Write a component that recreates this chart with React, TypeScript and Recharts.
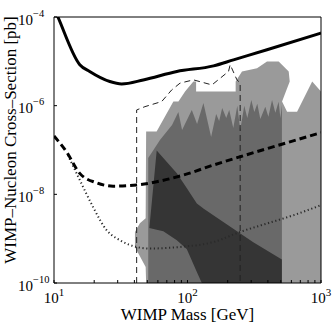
import React from 'react';
import { ComposedChart, Area, Line, XAxis, YAxis, Label } from 'recharts';

const FONT = '"Liberation Serif", "Times New Roman", serif';

// axes
const massTicks = [10, 20, 30, 40, 50, 60, 70, 80, 90, 100, 200, 300, 400, 500, 600, 700, 800, 900, 1000];
const majorMass = [10, 100, 1000];
const sigmaTicks = [1e-10, 1e-8, 1e-6, 1e-4];

// solid limit curve
const solidMass = [10, 10.7, 15.6, 18.5, 26.2, 32.1, 46.6, 83.2, 156.7, 221, 394, 1000];
const solidSigma = [1.6e-4, 1e-4, 8.4e-6, 5.9e-6, 3.5e-6, 3.1e-6, 3.8e-6, 5.9e-6, 7.9e-6, 1.08e-5, 1.82e-5, 4.35e-5];

// thick dashed curve
const thickDashMass = [10, 12.4, 15.6, 20.8, 27.7, 41.6, 58.7, 93.1, 156.6, 248, 442, 1000];
const thickDashSigma = [2.07e-7, 9.1e-8, 2.97e-8, 1.82e-8, 1.53e-8, 1.62e-8, 1.92e-8, 2.72e-8, 4.58e-8, 7.05e-8, 1.19e-7, 2.46e-7];

// dotted curve
const dottedMass = [12.7, 15.6, 19.6, 24.8, 31.2, 41.6, 52.4, 87.9, 156.6, 248, 394, 625, 1000];
const dottedSigma = [7.7e-8, 2.1e-8, 5.2e-9, 1.55e-9, 9.2e-10, 6.5e-10, 6.0e-10, 6.5e-10, 8.4e-10, 1.42e-9, 2.2e-9, 3.4e-9, 5.7e-9];

// thin dashed contour
const thinDashMass = [41.6, 41.6, 48.0, 64.1, 76.2, 87.9, 110.7, 152.4, 202.8, 208.8, 234.6, 248, 248];
const thinDashSigma = [1e-10, 8.0e-7, 9.5e-7, 1.24e-6, 2.27e-6, 3.22e-6, 3.82e-6, 2.94e-6, 5.9e-6, 8.4e-6, 3.82e-6, 3.27e-6, 1e-10];

// light region
const lightMass = [40.4, 44.0, 48.6, 49.0, 58.7, 78.4, 85.5, 95.9, 110.7, 116.0, 116.0, 229.5, 229.5, 255.9, 331.8, 394, 482, 573, 583, 511, 557, 662, 859, 1000];
const lightLow = [6.5e-10, 4.0e-10, 2.3e-10, 1e-10, 1e-10, 1e-10, 1e-10, 1e-10, 1e-10, 1e-10, 1e-10, 1e-10, 1e-10, 1e-10, 1e-10, 1e-10, 1e-10, 1e-10, 1e-10, 1e-10, 1e-10, 1e-10, 1e-10, 1e-10];
const lightHigh = [1.42e-9, 2.23e-9, 2.9e-9, 2.6e-7, 2.6e-7, 1.24e-6, 1.24e-6, 2.08e-6, 3.5e-6, 3.5e-6, 2.08e-6, 2.08e-6, 3.5e-6, 5.9e-6, 7.0e-6, 9.9e-6, 9.9e-6, 5.9e-6, 3.5e-6, 1.24e-6, 7.3e-7, 7.3e-7, 3.5e-6, 2.08e-6];

// medium region (down to the axis floor)
const mediumMass = [50.8, 62.2, 76.6, 85.4, 91.1, 107.7, 118.0, 131.6, 150.3, 163.9, 172.6, 181.9, 195.0, 205.4, 220.2, 236.1, 248.4, 266.2, 280.5, 300.6, 316.5, 333.3, 351, 382.7, 403.6, 429.8, 455, 481.5, 496.2, 509.6];
const mediumHigh = [6.6e-8, 1.68e-7, 3.67e-7, 7.2e-7, 2.83e-7, 8.0e-7, 3.87e-7, 1.15e-6, 1.97e-7, 6.5e-7, 4.5e-7, 8.9e-7, 5.3e-7, 8.0e-7, 3.14e-7, 9.9e-7, 2.83e-7, 9.9e-7, 5.3e-7, 1.35e-6, 7.2e-7, 1.10e-6, 5.0e-7, 9.4e-7, 5.6e-7, 1.35e-6, 6.9e-7, 1.22e-6, 5.3e-7, 1.04e-6];

// dark region
const darkMass = [51.8, 58.8, 65.9, 83.2, 98.9, 117.5, 128.0, 131.5, 191.5, 311, 509];
const darkLow = [1.75e-9, 1.59e-9, 1.47e-9, 9.2e-10, 5.8e-10, 1.77e-10, 1e-10, 1e-10, 1e-10, 1e-10, 1e-10];
const darkHigh = [1.75e-9, 9.7e-8, 6.6e-8, 2.97e-8, 1.38e-8, 6.2e-9, 5.1e-9, 4.8e-9, 2.23e-9, 8.3e-10, 3.4e-10];

const pts = (m: number[], s: number[]) => m.map((x, i) => ({ m: x, s: s[i] }));
const band = (m: number[], lo: number[], hi: number[]) => m.map((x, i) => ({ m: x, r: [lo[i], hi[i]] }));

function MassTick({ x, y, payload }: any) {
  if (!majorMass.includes(payload.value)) return <g />;
  return (
    <text x={x} y={y + 20} textAnchor="middle" fontFamily={FONT} fontSize={15} fill="#000">
      10<tspan dy={-7} fontSize={11}>{Math.round(Math.log10(payload.value))}</tspan>
    </text>
  );
}

function SigmaTick({ x, y, payload }: any) {
  const e = Math.round(Math.log10(payload.value));
  return (
    <text x={x} y={y + 7.5} textAnchor="start" fontFamily={FONT} fontSize={15} fill="#000">
      10<tspan dy={-8} fontSize={10.5}>{'\u2212' + Math.abs(e)}</tspan>
    </text>
  );
}

const XLabel = ({ viewBox }: any) => (
  <text x={viewBox.x + viewBox.width / 2} y={viewBox.y + viewBox.height - 6} textAnchor="middle" fontFamily={FONT} fontSize={17} fill="#000">
    WIMP Mass [GeV]
  </text>
);

const YLabel = ({ viewBox }: any) => {
  const cx = viewBox.x + 16;
  const cy = viewBox.y + viewBox.height / 2 - 10;
  return (
    <text x={cx} y={cy} transform={`rotate(-90 ${cx} ${cy})`} textAnchor="middle" fontFamily={FONT} fontSize={17} fill="#000">
      WIMP–Nucleon Cross–Section [pb]
    </text>
  );
};

export default function App() {
  const axisStroke = { stroke: '#000', strokeWidth: 1 };
  return (
    <div style={{ position: 'absolute', left: 0, top: 0, width: 335, height: 326, background: '#fff' }}>
      <ComposedChart width={335} height={326} margin={{ top: 0, right: 0, bottom: 0, left: 0 }}>
        <XAxis dataKey="m" type="number" scale="log" domain={[10, 1000]} allowDataOverflow ticks={massTicks} interval={0}
          tickSize={-3} tickMargin={3} height={43} tick={MassTick} axisLine={axisStroke} tickLine={axisStroke}>
          <Label content={XLabel} />
        </XAxis>
        <XAxis xAxisId="top" orientation="top" dataKey="m" type="number" scale="log" domain={[10, 1000]} allowDataOverflow
          ticks={massTicks} interval={0} tickSize={-3} height={17} tick={false} axisLine={axisStroke} tickLine={axisStroke} />
        <YAxis type="number" scale="log" domain={[1e-10, 1e-4]} allowDataOverflow ticks={sigmaTicks} interval={0}
          tickSize={-3} tickMargin={39} width={54} tick={SigmaTick} axisLine={axisStroke} tickLine={axisStroke}>
          <Label content={YLabel} />
        </YAxis>
        <YAxis yAxisId="r" orientation="right" type="number" scale="log" domain={[1e-10, 1e-4]} allowDataOverflow
          ticks={sigmaTicks} interval={0} tickSize={-3} width={14} tick={false} axisLine={axisStroke} tickLine={axisStroke} />

        <Area data={band(lightMass, lightLow, lightHigh)} dataKey="r" type="linear" fill="#9a9a9a" fillOpacity={1} stroke="none" dot={false} activeDot={false} isAnimationActive={false} />
        <Area data={pts(mediumMass, mediumHigh)} dataKey="s" type="linear" fill="#696969" fillOpacity={1} stroke="none" dot={false} activeDot={false} isAnimationActive={false} />
        <Area data={band(darkMass, darkLow, darkHigh)} dataKey="r" type="linear" fill="#353535" fillOpacity={1} stroke="none" dot={false} activeDot={false} isAnimationActive={false} />

        <Line data={pts(dottedMass, dottedSigma)} dataKey="s" type="monotone" stroke="#2a2a2a" strokeWidth={2} strokeDasharray="1.2 2.6" dot={false} activeDot={false} isAnimationActive={false} />
        <Line data={pts(thinDashMass, thinDashSigma)} dataKey="s" type="linear" stroke="#222" strokeWidth={1} strokeDasharray="6 4" dot={false} activeDot={false} isAnimationActive={false} />
        <Line data={pts(thickDashMass, thickDashSigma)} dataKey="s" type="monotone" stroke="#000" strokeWidth={3} strokeDasharray="7 4" dot={false} activeDot={false} isAnimationActive={false} />
        <Line data={pts(solidMass, solidSigma)} dataKey="s" type="monotone" stroke="#000" strokeWidth={3} dot={false} activeDot={false} isAnimationActive={false} />
      </ComposedChart>
    </div>
  );
}
